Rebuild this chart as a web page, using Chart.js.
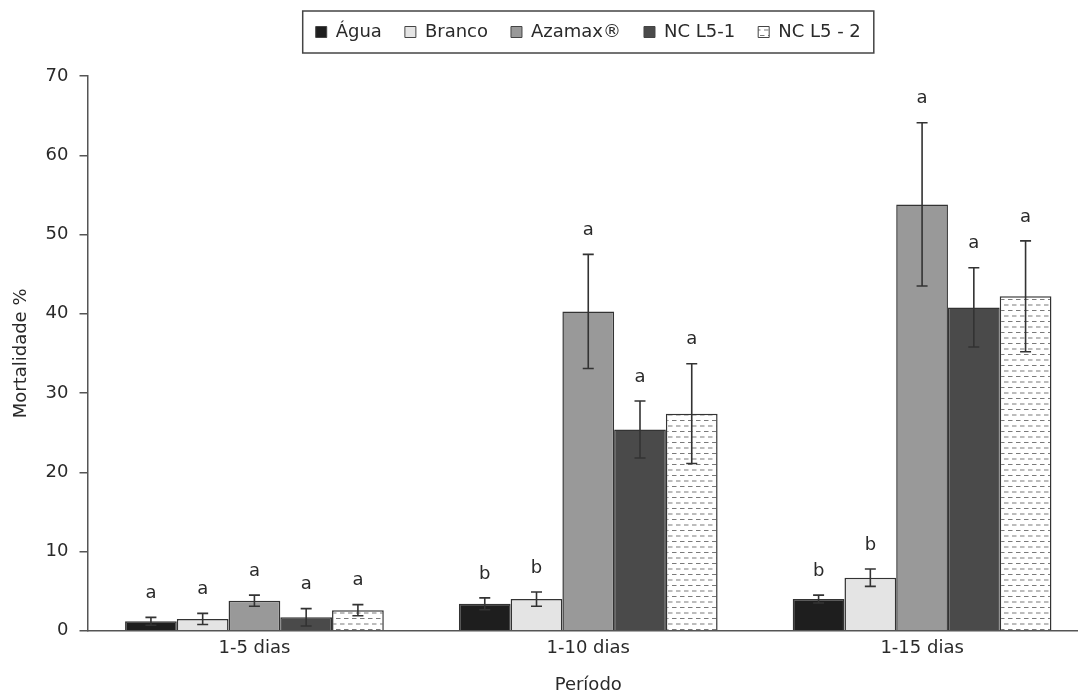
<!DOCTYPE html>
<html>
<head>
<meta charset="utf-8">
<script src="https://cdn.jsdelivr.net/npm/chart.js@4.4.1/dist/chart.umd.min.js"></script>
<style>
html,body{margin:0;padding:0;background:#fff;overflow:hidden;}
#wrap{position:relative;width:1091px;height:696px;}
</style>
</head>
<body>
<div id="wrap"><canvas id="c"></canvas></div>
<script>
const categories = ['1-5 dias', '1-10 dias', '1-15 dias'];
const seriesNames = ['Água', 'Branco', 'Azamax®', 'NC L5-1', 'NC L5 - 2'];
const agua    = [1.2, 3.4, 4.0];
const branco  = [1.5, 4.0, 6.7];
const azamax  = [3.8, 40.3, 53.8];
const ncl51   = [1.7, 25.4, 40.8];
const ncl52   = [2.6, 27.4, 42.2];
const errAgua   = [0.5, 0.75, 0.5];
const errBranco = [0.7, 0.9, 1.1];
const errAzamax = [0.7, 7.2, 10.3];
const errNcl51  = [1.1, 3.6, 5.0];
const errNcl52  = [0.7, 6.3, 7.0];
const lettersAgua   = ['a', 'b', 'b'];
const lettersBranco = ['a', 'b', 'b'];
const lettersAzamax = ['a', 'a', 'a'];
const lettersNcl51  = ['a', 'a', 'a'];
const lettersNcl52  = ['a', 'a', 'a'];
const yTicks = [0, 10, 20, 30, 40, 50, 60, 70];

const FONT = '"DejaVu Sans", "Open Sans", sans-serif';
const TXT = '#2a2a2a';

function makePattern() {
  const p = document.createElement('canvas');
  p.width = 8; p.height = 11;
  const g = p.getContext('2d');
  g.fillStyle = '#fff'; g.fillRect(0, 0, 8, 11);
  g.strokeStyle = '#7a7a7a'; g.lineWidth = 1.2;
  g.beginPath();
  g.moveTo(0, 2.5); g.lineTo(4.5, 2.5);
  g.moveTo(4, 8); g.lineTo(8, 8);
  g.moveTo(0, 8); g.lineTo(0.5, 8);
  g.stroke();
  return document.getElementById('c').getContext('2d').createPattern(p, 'repeat');
}
const pattern = makePattern();

const values = [agua, branco, azamax, ncl51, ncl52];
const errs = [errAgua, errBranco, errAzamax, errNcl51, errNcl52];
const letters = [lettersAgua, lettersBranco, lettersAzamax, lettersNcl51, lettersNcl52];
const fills = ['#1e1e1e', '#e4e4e4', '#999999', '#4a4a4a', pattern];

const datasets = seriesNames.map((n, i) => ({
  label: n,
  data: values[i],
  backgroundColor: fills[i],
  borderColor: '#333',
  borderWidth: 1.5,
  borderSkipped: 'bottom',
  errors: errs[i],
  letters: letters[i]
}));

const errorPlugin = {
  id: 'errorbars',
  afterDatasetsDraw(chart) {
    const ctx = chart.ctx;
    const y = chart.scales.y;
    ctx.save();
    chart.data.datasets.forEach((ds, di) => {
      const meta = chart.getDatasetMeta(di);
      meta.data.forEach((bar, i) => {
        const v = ds.data[i], e = ds.errors[i];
        const yt = y.getPixelForValue(v + e);
        const yb = y.getPixelForValue(v - e);
        const x = bar.x;
        ctx.strokeStyle = '#333';
        ctx.lineWidth = 1.6;
        ctx.beginPath();
        ctx.moveTo(x, yt); ctx.lineTo(x, yb);
        ctx.moveTo(x - 5.5, yt); ctx.lineTo(x + 5.5, yt);
        ctx.moveTo(x - 5.5, yb); ctx.lineTo(x + 5.5, yb);
        ctx.stroke();
        ctx.fillStyle = TXT;
        ctx.font = '18px ' + FONT;
        ctx.textAlign = 'center';
        ctx.textBaseline = 'middle';
        ctx.fillText(ds.letters[i], x, yt - 24);
      });
    });
    ctx.restore();
  }
};

const legendSpace = {
  id: 'legendSpace',
  beforeInit(chart) {
    const lg = chart.legend;
    if (!lg) return;
    const orig = lg.fit.bind(lg);
    lg.fit = function () { orig(); this.height += 25; };
  },
  afterDraw(chart) {
    const lg = chart.legend;
    if (!lg || !lg.legendHitBoxes || !lg.legendHitBoxes.length) return;
    const hb = lg.legendHitBoxes;
    const last = hb[hb.length - 1];
    const l = hb[0].left - 13, r = last.left + last.width + 13;
    const t = hb[0].top - 12, b = hb[0].top + hb[0].height + 12;
    const ctx = chart.ctx;
    ctx.save();
    ctx.strokeStyle = '#444';
    ctx.lineWidth = 1.5;
    ctx.strokeRect(l, t, r - l, b - t);
    ctx.restore();
  }
};

new Chart(document.getElementById('c'), {
  type: 'bar',
  data: { labels: categories, datasets },
  plugins: [errorPlugin, legendSpace],
  options: {
    responsive: true,
    maintainAspectRatio: false,
    animation: false,
    layout: { padding: { top: 0, right: 2, left: 11, bottom: 0 } },
    datasets: { bar: { categoryPercentage: 0.775, barPercentage: 1.0 } },
    plugins: {
      legend: {
        position: 'top',
        fullSize: false,
        labels: {
          font: { size: 18, family: FONT },
          color: TXT,
          boxWidth: 11,
          boxHeight: 11,
          padding: 23,
          generateLabels(chart) {
            return chart.data.datasets.map((ds, i) => ({
              text: ds.label,
              fillStyle: ds.backgroundColor,
              strokeStyle: '#444',
              lineWidth: 1,
              datasetIndex: i,
              fontColor: TXT
            }));
          }
        }
      },
      tooltip: { enabled: false }
    },
    scales: {
      x: {
        grid: { display: false, drawTicks: false, tickLength: 0 },
        border: { display: true, color: '#555', width: 1.5 },
        ticks: { font: { size: 18, family: FONT }, color: TXT, padding: 7 },
        title: { display: true, text: 'Período', font: { size: 18, family: FONT }, color: TXT, padding: { top: 8, bottom: 0 } }
      },
      y: {
        min: 0, max: 70,
        afterBuildTicks(scale) { scale.ticks = yTicks.map(v => ({ value: v })); },
        grid: { display: true, drawOnChartArea: false, drawTicks: true, tickLength: 8, color: '#555', lineWidth: 1.5 },
        border: { display: true, color: '#555', width: 1.5 },
        ticks: { font: { size: 18, family: FONT }, color: TXT, padding: 11 },
        title: { display: true, text: 'Mortalidade %', font: { size: 18, family: FONT }, color: TXT, padding: { top: 0, bottom: 2 } }
      }
    }
  }
});
</script>
</body>
</html>
